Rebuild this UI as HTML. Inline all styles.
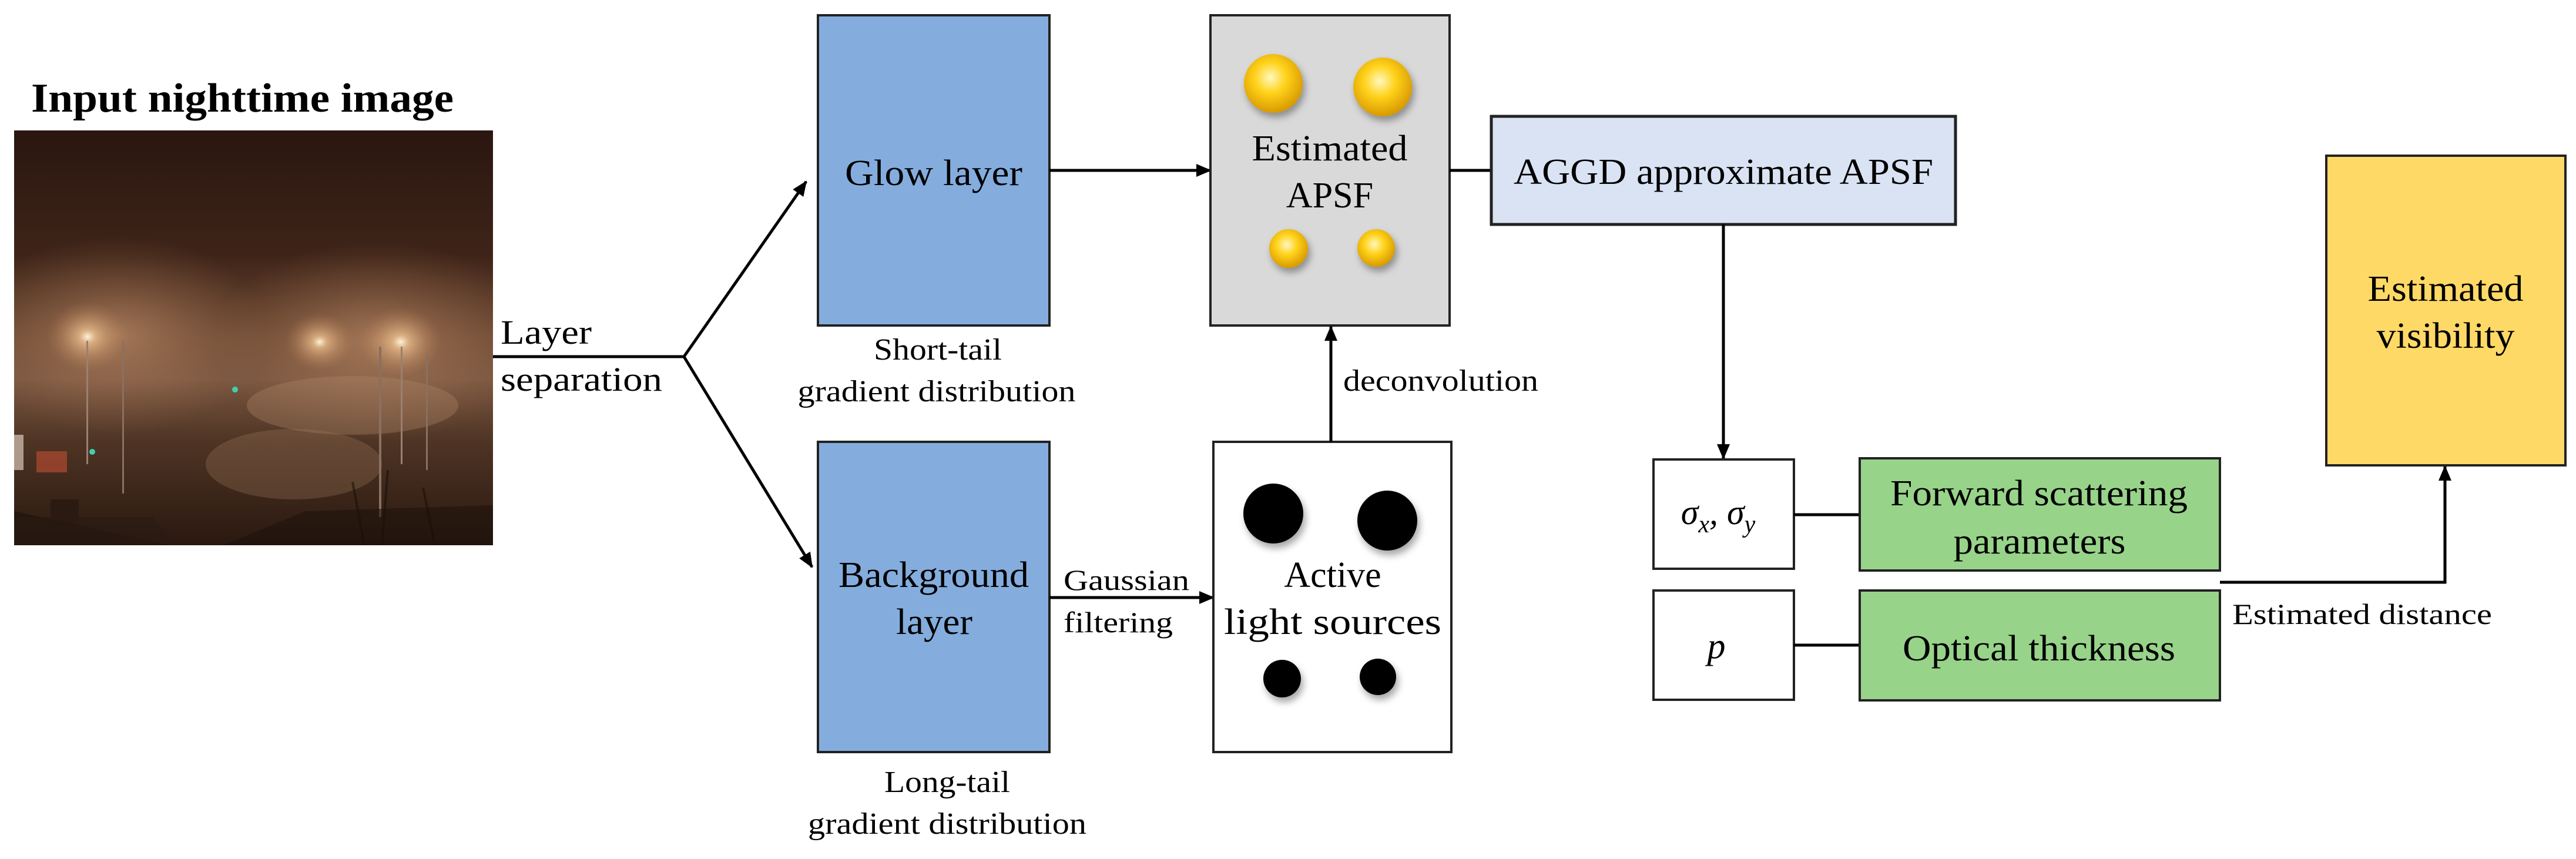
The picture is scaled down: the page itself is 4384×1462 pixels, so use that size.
<!DOCTYPE html>
<html><head><meta charset="utf-8"><style>
html,body{margin:0;padding:0;background:#fff;}
svg{display:block;}
text{font-family:"Liberation Serif","Times New Roman",serif;fill:#000;}
</style></head><body>
<svg width="4384" height="1462" viewBox="0 0 4384 1462" xmlns="http://www.w3.org/2000/svg">
<defs>
<clipPath id="pc"><rect x="24" y="222" width="815" height="706"/></clipPath>
<linearGradient id="sky" x1="0" y1="0" x2="0" y2="1">
<stop offset="0" stop-color="#2a1610"/>
<stop offset="0.3" stop-color="#3e2418"/>
<stop offset="0.5" stop-color="#6e4a34"/>
<stop offset="0.6" stop-color="#7a5640"/>
<stop offset="0.75" stop-color="#4e3424"/>
<stop offset="1" stop-color="#2a1810"/>
</linearGradient>
<radialGradient id="glow"><stop offset="0" stop-color="#fff2dc" stop-opacity="1"/><stop offset="0.2" stop-color="#f4c894" stop-opacity="0.7"/><stop offset="1" stop-color="#b07850" stop-opacity="0"/></radialGradient>
<radialGradient id="haze"><stop offset="0" stop-color="#c89670" stop-opacity="0.6"/><stop offset="1" stop-color="#a07050" stop-opacity="0"/></radialGradient>
<radialGradient id="ball" cx="0.45" cy="0.4" r="0.6"><stop offset="0" stop-color="#fff8c0"/><stop offset="0.45" stop-color="#ffd21a"/><stop offset="1" stop-color="#d89a00"/></radialGradient>
<filter id="sh" x="-50%" y="-50%" width="200%" height="200%"><feDropShadow dx="4" dy="8" stdDeviation="6" flood-color="#000" flood-opacity="0.35"/></filter>
</defs>
<marker id="a2" markerWidth="26" markerHeight="22" refX="24" refY="11" orient="auto" markerUnits="userSpaceOnUse"><path d="M0,0 L26,11 L0,22 z" fill="#000"/></marker>

<text x="53" y="190" font-size="70" font-weight="bold" textLength="719" lengthAdjust="spacingAndGlyphs">Input nighttime image</text>

<g clip-path="url(#pc)">
<rect x="24" y="222" width="815" height="706" fill="url(#sky)"/>
<ellipse cx="200" cy="570" rx="260" ry="170" fill="url(#haze)"/>
<ellipse cx="640" cy="580" rx="280" ry="170" fill="url(#haze)"/>
<ellipse cx="149" cy="573" rx="70" ry="60" fill="url(#glow)"/>
<ellipse cx="544" cy="582" rx="60" ry="50" fill="url(#glow)"/>
<ellipse cx="682" cy="582" rx="70" ry="60" fill="url(#glow)"/>
<ellipse cx="600" cy="690" rx="180" ry="50" fill="#b08868" opacity="0.35"/>
<ellipse cx="500" cy="790" rx="150" ry="60" fill="#a07a5c" opacity="0.3"/>
<rect x="24" y="740" width="16" height="60" fill="#d8c8b8" opacity="0.7"/>
<rect x="62" y="768" width="52" height="36" fill="#b04a30" opacity="0.7"/>
<circle cx="157" cy="769" r="5" fill="#40d0b0"/>
<circle cx="400" cy="663" r="5" fill="#40d0b0"/>
<rect x="86" y="850" width="48" height="45" fill="#2a1a12"/>
<rect x="147" y="580" width="3" height="210" fill="#9a8070"/>
<rect x="208" y="580" width="3" height="260" fill="#8a7060"/>
<rect x="645" y="590" width="4" height="290" fill="#8a7060"/>
<rect x="682" y="590" width="3" height="200" fill="#9a8070"/>
<rect x="725" y="600" width="3" height="200" fill="#8a7060"/>
<path d="M24 870 L300 930 L24 928 z" fill="#1e120c" opacity="0.7"/>
<path d="M24 880 L260 880 L300 928 L24 928 z" fill="#2a1a12" opacity="0.6"/>
<path d="M380 928 L520 870 L839 860 L839 928 z" fill="#1e120c" opacity="0.6"/>
<path d="M600 820 L620 928 M660 800 L650 928 M720 830 L740 928" stroke="#1a100a" stroke-width="4" opacity="0.6"/>
</g>

<path d="M839 607 L1164 607" stroke="#000" stroke-width="5" fill="none"/>
<path d="M1164 607 L1372 309" stroke="#000" stroke-width="5" fill="none" marker-end="url(#a2)"/>
<path d="M1164 607 L1382 965" stroke="#000" stroke-width="5" fill="none" marker-end="url(#a2)"/>
<text x="852" y="585" font-size="58" textLength="155" lengthAdjust="spacingAndGlyphs">Layer</text>
<text x="852" y="665" font-size="58" textLength="275" lengthAdjust="spacingAndGlyphs">separation</text>

<rect x="1392" y="26" width="394" height="528" fill="#84ADDE" stroke="#222" stroke-width="4"/>
<text x="1589" y="315" font-size="62" text-anchor="middle" textLength="302" lengthAdjust="spacingAndGlyphs">Glow layer</text>
<text x="1596" y="612" font-size="52" text-anchor="middle" textLength="218" lengthAdjust="spacingAndGlyphs">Short-tail</text>
<text x="1594" y="683" font-size="52" text-anchor="middle" textLength="473" lengthAdjust="spacingAndGlyphs">gradient distribution</text>

<rect x="1392" y="752" width="394" height="528" fill="#84ADDE" stroke="#222" stroke-width="4"/>
<text x="1589" y="999" font-size="62" text-anchor="middle" textLength="324" lengthAdjust="spacingAndGlyphs">Background</text>
<text x="1590" y="1079" font-size="62" text-anchor="middle" textLength="130" lengthAdjust="spacingAndGlyphs">layer</text>
<text x="1612" y="1348" font-size="52" text-anchor="middle" textLength="214" lengthAdjust="spacingAndGlyphs">Long-tail</text>
<text x="1612" y="1419" font-size="52" text-anchor="middle" textLength="474" lengthAdjust="spacingAndGlyphs">gradient distribution</text>

<path d="M1786 290 L2060 290" stroke="#000" stroke-width="5" fill="none" marker-end="url(#a2)"/>
<path d="M1786 1017 L2065 1017" stroke="#000" stroke-width="5" fill="none" marker-end="url(#a2)"/>
<text x="1810" y="1004" font-size="50" textLength="214" lengthAdjust="spacingAndGlyphs">Gaussian</text>
<text x="1810" y="1076" font-size="50" textLength="186" lengthAdjust="spacingAndGlyphs">filtering</text>

<rect x="2060" y="26" width="407" height="528" fill="#D9D9D9" stroke="#222" stroke-width="4"/>
<circle cx="2167" cy="142" r="50" fill="url(#ball)" filter="url(#sh)"/>
<circle cx="2353" cy="148" r="50" fill="url(#ball)" filter="url(#sh)"/>
<circle cx="2193" cy="423" r="33" fill="url(#ball)" filter="url(#sh)"/>
<circle cx="2342" cy="422" r="32" fill="url(#ball)" filter="url(#sh)"/>
<text x="2263" y="273" font-size="62" text-anchor="middle" textLength="265" lengthAdjust="spacingAndGlyphs">Estimated</text>
<text x="2263" y="353" font-size="62" text-anchor="middle">APSF</text>

<rect x="2065" y="752" width="405" height="528" fill="#fff" stroke="#222" stroke-width="4"/>
<circle cx="2167" cy="874" r="51" fill="#000" filter="url(#sh)"/>
<circle cx="2361" cy="886" r="51" fill="#000" filter="url(#sh)"/>
<circle cx="2182" cy="1155" r="32" fill="#000" filter="url(#sh)"/>
<circle cx="2345" cy="1152" r="31" fill="#000" filter="url(#sh)"/>
<text x="2268" y="999" font-size="62" text-anchor="middle">Active</text>
<text x="2268" y="1079" font-size="62" text-anchor="middle" textLength="370" lengthAdjust="spacingAndGlyphs">light sources</text>

<path d="M2265 752 L2265 556" stroke="#000" stroke-width="5" fill="none" marker-end="url(#a2)"/>
<text x="2286" y="665" font-size="52" textLength="332" lengthAdjust="spacingAndGlyphs">deconvolution</text>

<path d="M2467 290 L2538 290" stroke="#000" stroke-width="5"/>
<rect x="2538" y="198" width="790" height="184" fill="#DAE3F3" stroke="#222" stroke-width="5"/>
<text x="2933" y="313" font-size="62" text-anchor="middle" textLength="714" lengthAdjust="spacingAndGlyphs">AGGD approximate APSF</text>
<path d="M2933 382 L2933 780" stroke="#000" stroke-width="5" fill="none" marker-end="url(#a2)"/>

<rect x="2814" y="782" width="239" height="186" fill="#fff" stroke="#222" stroke-width="4"/>
<text x="2924" y="892" font-size="60" text-anchor="middle" font-style="italic">σ<tspan font-size="42" dy="14">x</tspan><tspan dy="-14">, σ</tspan><tspan font-size="42" dy="14">y</tspan></text>
<rect x="2814" y="1005" width="239" height="186" fill="#fff" stroke="#222" stroke-width="4"/>
<text x="2921" y="1120" font-size="62" text-anchor="middle" font-style="italic">p</text>
<path d="M3053 876 L3165 876" stroke="#000" stroke-width="5"/>
<path d="M3053 1098 L3165 1098" stroke="#000" stroke-width="5"/>

<rect x="3165" y="780" width="613" height="191" fill="#98D38A" stroke="#222" stroke-width="4"/>
<text x="3470" y="860" font-size="62" text-anchor="middle" textLength="506" lengthAdjust="spacingAndGlyphs">Forward scattering</text>
<text x="3471" y="942" font-size="62" text-anchor="middle" textLength="293" lengthAdjust="spacingAndGlyphs">parameters</text>
<rect x="3165" y="1005" width="613" height="187" fill="#98D38A" stroke="#222" stroke-width="4"/>
<text x="3470" y="1124" font-size="62" text-anchor="middle" textLength="464" lengthAdjust="spacingAndGlyphs">Optical thickness</text>

<path d="M3778 991 L4161 991 L4161 794" stroke="#000" stroke-width="5" fill="none" marker-end="url(#a2)"/>
<text x="3799" y="1062" font-size="50" textLength="442" lengthAdjust="spacingAndGlyphs">Estimated distance</text>

<rect x="3959" y="265" width="407" height="527" fill="#FFD966" stroke="#222" stroke-width="4"/>
<text x="4162" y="512" font-size="62" text-anchor="middle" textLength="265" lengthAdjust="spacingAndGlyphs">Estimated</text>
<text x="4162" y="592" font-size="62" text-anchor="middle" textLength="235" lengthAdjust="spacingAndGlyphs">visibility</text>
</svg>
</body></html>
